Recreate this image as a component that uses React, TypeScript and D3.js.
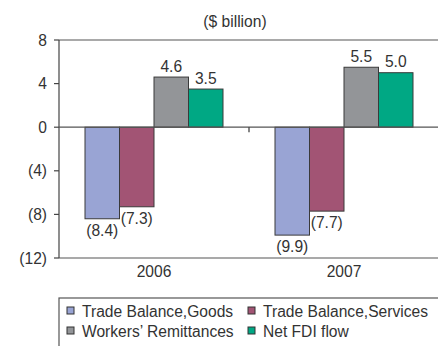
import React from "react";
import * as d3 from "d3";

const years = ["2006", "2007"];
const seriesNames = [
  "Trade Balance,Goods",
  "Trade Balance,Services",
  "Workers\u2019 Remittances",
  "Net FDI flow",
];
const goods = [-8.4, -9.9];
const services = [-7.3, -7.7];
const remittances = [4.6, 5.5];
const fdi = [3.5, 5.0];
const yTicks = [8, 4, 0, -4, -8, -12];
const colors = ["#99A4D4", "#A25474", "#939598", "#00A884"];

const W = 438;
const H = 346;
const FONT = "'Liberation Sans', Arial, sans-serif";
const FS = 15.6;
const TXT = "#333333";

const fmt = (v: number) => (v < 0 ? `(${Math.abs(v).toFixed(1)})` : v.toFixed(1));
const fmtTick = (v: number) => (v < 0 ? `(${Math.abs(v)})` : `${v}`);

export default function App() {
  const values = [goods, services, remittances, fdi];
  const left = 59;
  const right = 439;
  const y = d3.scaleLinear().domain([-12, 8]).range([258, 40]);
  const x0 = d3.scaleBand<string>().domain(years).range([left, right]).padding(0);
  const x1 = d3
    .scaleBand<string>()
    .domain(seriesNames)
    .range([26, 164])
    .padding(0);
  const zero = y(0);

  const legendItems = [
    { i: 0, x: 67, y: 311 },
    { i: 1, x: 248, y: 311 },
    { i: 2, x: 67, y: 331 },
    { i: 3, x: 248, y: 331 },
  ];

  return (
    <svg
      width={W}
      height={H}
      style={{ position: "absolute", left: 0, top: 0, background: "#fff" }}
      fontFamily={FONT}
    >
      <text x={235} y={27} textAnchor="middle" fontSize={FS} fill={TXT}>
        ($ billion)
      </text>

      {/* plot frame lines */}
      <line x1={left} x2={right} y1={y(8)} y2={y(8)} stroke="#555" strokeWidth={1.2} />
      <line x1={left} x2={right} y1={y(-12)} y2={y(-12)} stroke="#555" strokeWidth={1.2} />
      <line x1={left} x2={left} y1={y(8)} y2={y(-12)} stroke="#444" strokeWidth={1.2} />

      {yTicks.map((t) => (
        <g key={t}>
          <line x1={54} x2={left} y1={y(t)} y2={y(t)} stroke="#444" strokeWidth={1.2} />
          <text
            x={47}
            y={y(t)}
            dy="0.36em"
            textAnchor="end"
            fontSize={FS}
            fill={TXT}
          >
            {fmtTick(t)}
          </text>
        </g>
      ))}

      {/* bars */}
      {years.map((yr, yi) => (
        <g key={yr} transform={`translate(${x0(yr)},0)`}>
          {seriesNames.map((s, si) => {
            const v = values[si][yi];
            const bx = x1(s)!;
            const bw = x1.bandwidth();
            const top = Math.min(y(v), zero);
            const h = Math.abs(y(v) - zero);
            return (
              <g key={s}>
                <rect
                  x={bx}
                  y={top}
                  width={bw}
                  height={h}
                  fill={colors[si]}
                  stroke="#3a3a3a"
                  strokeWidth={1}
                />
                <text
                  x={bx + bw / 2}
                  y={v >= 0 ? y(v) - 5.5 : y(v) + 17}
                  textAnchor="middle"
                  fontSize={FS}
                  fill={TXT}
                >
                  {fmt(v)}
                </text>
              </g>
            );
          })}
          <text
            x={x0.bandwidth() / 2}
            y={277}
            textAnchor="middle"
            fontSize={FS}
            fill={TXT}
          >
            {yr}
          </text>
        </g>
      ))}

      {/* zero axis */}
      <line x1={left} x2={right} y1={zero} y2={zero} stroke="#555" strokeWidth={1.2} />
      {years.slice(1).map((yr) => (
        <line
          key={yr}
          x1={x0(yr)!}
          x2={x0(yr)!}
          y1={zero}
          y2={zero + 5}
          stroke="#333"
          strokeWidth={1.2}
        />
      ))}

      {/* legend */}
      <rect x={59} y={298} width={400} height={60} fill="none" stroke="#555" strokeWidth={1.2} />
      {legendItems.map(({ i, x, y: ly }) => (
        <g key={i}>
          <rect x={x} y={ly - 4} width={7} height={7} fill={colors[i]} stroke="#333" strokeWidth={1} />
          <text x={x + 15} y={ly} dy="0.36em" fontSize={FS} fill={TXT}>
            {seriesNames[i]}
          </text>
        </g>
      ))}
    </svg>
  );
}
